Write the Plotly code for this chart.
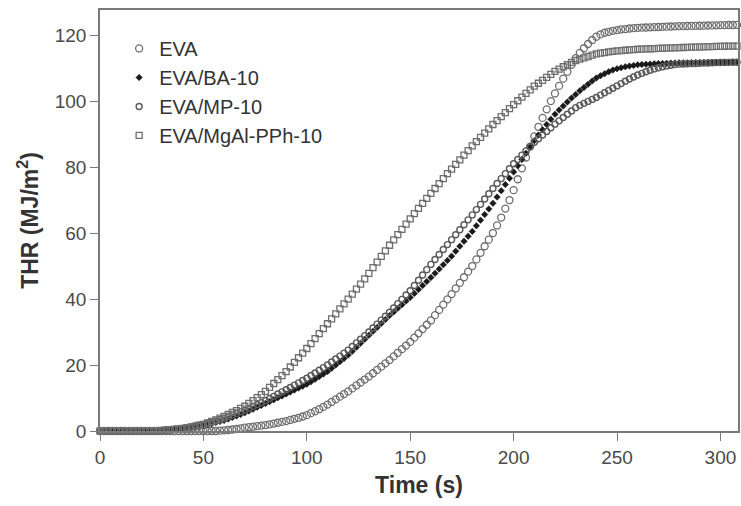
import plotly.graph_objects as go

TIME_S = [0, 2, 4, 6, 8, 10, 12, 14, 16, 18, 20, 22, 24, 26, 28, 30, 32, 34, 36, 38,
          40, 42, 44, 46, 48, 50, 52, 54, 56, 58, 60, 62, 64, 66, 68, 70, 72, 74, 76, 78,
          80, 82, 84, 86, 88, 90, 92, 94, 96, 98, 100, 102, 104, 106, 108, 110, 112, 114, 116, 118,
          120, 122, 124, 126, 128, 130, 132, 134, 136, 138, 140, 142, 144, 146, 148, 150, 152, 154, 156, 158,
          160, 162, 164, 166, 168, 170, 172, 174, 176, 178, 180, 182, 184, 186, 188, 190, 192, 194, 196, 198,
          200, 202, 204, 206, 208, 210, 212, 214, 216, 218, 220, 222, 224, 226, 228, 230, 232, 234, 236, 238,
          240, 242, 244, 246, 248, 250, 252, 254, 256, 258, 260, 262, 264, 266, 268, 270, 272, 274, 276, 278,
          280, 282, 284, 286, 288, 290, 292, 294, 296, 298, 300, 302, 304, 306, 308]

THR_EVA = [0, 0, 0, 0, 0, 0, 0, 0, 0, 0, 0, 0, 0, 0, 0, 0, 0, 0, 0, 0,
           0, 0, 0, 0, 0, 0, 0, 0, 0, 0.1, 0.2, 0.3, 0.45, 0.6, 0.8, 1.0, 1.15, 1.3, 1.5, 1.65,
           1.8, 2.0, 2.25, 2.5, 2.75, 3.0, 3.35, 3.7, 4.0, 4.4, 4.8, 5.4, 6.0, 6.6, 7.3, 8.0, 8.8, 9.6, 10.4, 11.2,
           12.0, 12.9, 13.8, 14.7, 15.6, 16.5, 17.5, 18.5, 19.5, 20.5, 21.5, 22.6, 23.7, 24.8, 25.9, 27.0, 28.3, 29.6, 30.9, 32.2,
           33.5, 35.1, 36.7, 38.3, 39.9, 41.5, 43.2, 44.9, 46.6, 48.3, 50.0, 52.0, 54.0, 56.0, 58.0, 60.0, 62.3, 64.7, 67.4, 70.0,
           73.0, 76.3, 79.6, 82.9, 86.2, 89.3, 92.2, 94.9, 97.5, 100.0, 102.3, 104.6, 106.8, 108.9, 111.0, 113.0, 114.6, 116.0, 117.3, 118.5,
           119.5, 120.2, 120.7, 121.0, 121.3, 121.5, 121.7, 121.8, 122.0, 122.1, 122.2, 122.25, 122.3, 122.35, 122.4, 122.45, 122.5, 122.55, 122.6, 122.65,
           122.7, 122.72, 122.75, 122.78, 122.8, 122.83, 122.86, 122.9, 122.93, 122.96, 123.0, 123.0, 123.05, 123.05, 123.1]

THR_BA10 = [0, 0, 0, 0, 0, 0, 0, 0, 0, 0, 0, 0, 0, 0, 0, 0.1, 0.18, 0.27, 0.37, 0.48,
            0.6, 0.78, 0.97, 1.17, 1.38, 1.6, 1.9, 2.2, 2.55, 2.88, 3.2, 3.65, 4.1, 4.55, 5.0, 5.5, 6.05, 6.6, 7.2, 7.75,
            8.3, 8.9, 9.45, 10.05, 10.6, 11.2, 11.8, 12.4, 13.0, 13.6, 14.2, 14.95, 15.7, 16.5, 17.25, 18.0, 19.0, 20.0, 21.0, 22.0,
            23.0, 24.2, 25.4, 26.6, 27.8, 29.0, 30.2, 31.4, 32.6, 33.8, 35.0, 36.1, 37.2, 38.3, 39.4, 40.5, 41.7, 42.9, 44.1, 45.3,
            46.5, 47.8, 49.1, 50.4, 51.7, 53.0, 54.5, 56.0, 57.5, 59.0, 60.5, 62.2, 63.9, 65.6, 67.3, 69.0, 70.9, 72.8, 74.7, 76.6,
            78.5, 80.4, 82.3, 84.2, 86.1, 88.0, 89.7, 91.3, 92.9, 94.5, 96.0, 97.3, 98.5, 99.7, 100.9, 102.0, 103.1, 104.1, 105.1, 106.1,
            107.0, 107.7, 108.3, 108.9, 109.4, 109.8, 110.1, 110.4, 110.6, 110.8, 111.0, 111.1, 111.15, 111.2, 111.3, 111.35, 111.4, 111.45, 111.5, 111.55,
            111.6, 111.62, 111.64, 111.66, 111.68, 111.7, 111.72, 111.74, 111.76, 111.78, 111.8, 111.8, 111.8, 111.82, 111.82]

THR_MP10 = [0, 0, 0, 0, 0, 0, 0, 0, 0, 0, 0, 0, 0, 0, 0, 0.2, 0.3, 0.4, 0.52, 0.65,
            0.8, 1.02, 1.25, 1.5, 1.75, 2.0, 2.35, 2.7, 3.05, 3.4, 3.8, 4.3, 4.8, 5.3, 5.8, 6.3, 6.85, 7.45, 8.0, 8.6,
            9.2, 9.85, 10.5, 11.2, 11.85, 12.5, 13.2, 13.9, 14.6, 15.3, 16.0, 16.8, 17.6, 18.4, 19.2, 20.0, 20.9, 21.8, 22.7, 23.6,
            24.5, 25.6, 26.7, 27.8, 28.9, 30.0, 31.2, 32.4, 33.6, 34.8, 36.0, 37.3, 38.6, 39.9, 41.2, 42.5, 44.1, 45.7, 47.3, 48.9,
            50.5, 52.0, 53.5, 55.0, 56.5, 58.0, 59.5, 61.0, 62.5, 64.0, 65.5, 67.1, 68.7, 70.3, 71.9, 73.5, 75.0, 76.5, 78.0, 79.5,
            81.0, 82.3, 83.6, 84.9, 86.2, 87.5, 88.6, 89.7, 90.8, 91.9, 93.0, 94.0, 95.0, 96.0, 97.0, 98.0, 98.7, 99.3, 99.9, 100.5,
            101.1, 101.8, 102.5, 103.2, 103.9, 104.6, 105.3, 106.0, 106.7, 107.3, 107.9, 108.4, 108.9, 109.35, 109.75, 110.1, 110.4, 110.65, 110.85, 111.05,
            111.2, 111.25, 111.3, 111.35, 111.4, 111.45, 111.5, 111.55, 111.6, 111.65, 111.7, 111.72, 111.74, 111.76, 111.78]

THR_MGAL = [0, 0, 0, 0, 0, 0, 0, 0, 0, 0, 0, 0, 0, 0, 0, 0.2, 0.3, 0.4, 0.52, 0.65,
            0.8, 1.02, 1.25, 1.5, 1.75, 2.0, 2.45, 2.9, 3.4, 3.9, 4.4, 5.0, 5.6, 6.2, 6.85, 7.5, 8.35, 9.2, 10.1, 11.0,
            12.0, 13.2, 14.4, 15.6, 16.8, 18.0, 19.4, 20.8, 22.2, 23.6, 25.0, 26.5, 28.0, 29.5, 31.0, 32.5, 34.0, 35.5, 37.0, 38.5,
            40.0, 41.5, 43.0, 44.5, 46.1, 47.8, 49.5, 51.2, 52.9, 54.6, 56.3, 57.9, 59.5, 61.1, 62.7, 64.3, 65.9, 67.5, 69.0, 70.5,
            72.0, 73.5, 75.0, 76.5, 78.0, 79.4, 80.8, 82.2, 83.6, 85.0, 86.4, 87.7, 89.0, 90.3, 91.6, 92.9, 94.1, 95.3, 96.5, 97.7,
            98.9, 100.1, 101.2, 102.3, 103.4, 104.5, 105.4, 106.3, 107.2, 108.1, 109.0, 109.7, 110.4, 111.0, 111.7, 112.3, 112.7, 113.1, 113.5, 113.9,
            114.3, 114.5, 114.7, 114.9, 115.05, 115.2, 115.3, 115.4, 115.5, 115.6, 115.7, 115.75, 115.8, 115.85, 115.9, 115.95, 116.0, 116.05, 116.1, 116.15,
            116.2, 116.24, 116.28, 116.32, 116.36, 116.4, 116.44, 116.48, 116.52, 116.56, 116.6, 116.62, 116.64, 116.66, 116.68]

NAMES = ["EVA", "EVA/BA-10", "EVA/MP-10", "EVA/MgAl-PPh-10"]
X_TICKS = [0, 50, 100, 150, 200, 250, 300]
Y_TICKS = [0, 20, 40, 60, 80, 100, 120]

series = [THR_EVA, THR_BA10, THR_MP10, THR_MGAL]
styles = [
    dict(symbol="circle-open", size=7, color="#6e6e6e", line=dict(width=1.3, color="#6e6e6e")),
    dict(symbol="diamond", size=5, color="#1a1a1a", line=dict(width=0.5, color="#1a1a1a")),
    dict(symbol="circle-open", size=6, color="#5a5a5a", line=dict(width=1.4, color="#5a5a5a")),
    dict(symbol="square-open", size=6, color="#6e6e6e", line=dict(width=1.3, color="#6e6e6e")),
]

fig = go.Figure()
for name, ys, st in zip(NAMES, series, styles):
    fig.add_trace(go.Scatter(x=TIME_S[:len(ys)], y=ys, name=name, mode="markers",
                             marker=st, cliponaxis=False))

axis_common = dict(showline=True, linecolor="#7a7a7a", linewidth=1.5, mirror=True,
                   ticks="outside", ticklen=8, tickwidth=1.3, tickcolor="#7a7a7a",
                   showgrid=False, zeroline=False,
                   tickfont=dict(family="Liberation Sans", size=19, color="#4a4a4a"))

fig.update_layout(
    width=741, height=506,
    margin=dict(l=100, r=1, t=10, b=75),
    plot_bgcolor="white", paper_bgcolor="white",
    showlegend=True,
    legend=dict(x=0.03, y=0.955, xanchor="left", yanchor="top",
                bgcolor="rgba(0,0,0,0)", font=dict(family="Liberation Sans", size=20, color="#333333"),
                itemsizing="trace", tracegroupgap=0),
    xaxis=dict(range=[0, 308.5], tickvals=X_TICKS,
               title=dict(text="<b>Time (s)</b>", font=dict(family="Liberation Sans", size=23, color="#333333"), standoff=10),
               **axis_common),
    yaxis=dict(range=[0, 127.6], tickvals=Y_TICKS,
               title=dict(text="<b>THR (MJ/m<sup>2</sup>)</b>", font=dict(family="Liberation Sans", size=23, color="#333333"), standoff=10),
               **axis_common),
)

fig.write_html("out.html")
